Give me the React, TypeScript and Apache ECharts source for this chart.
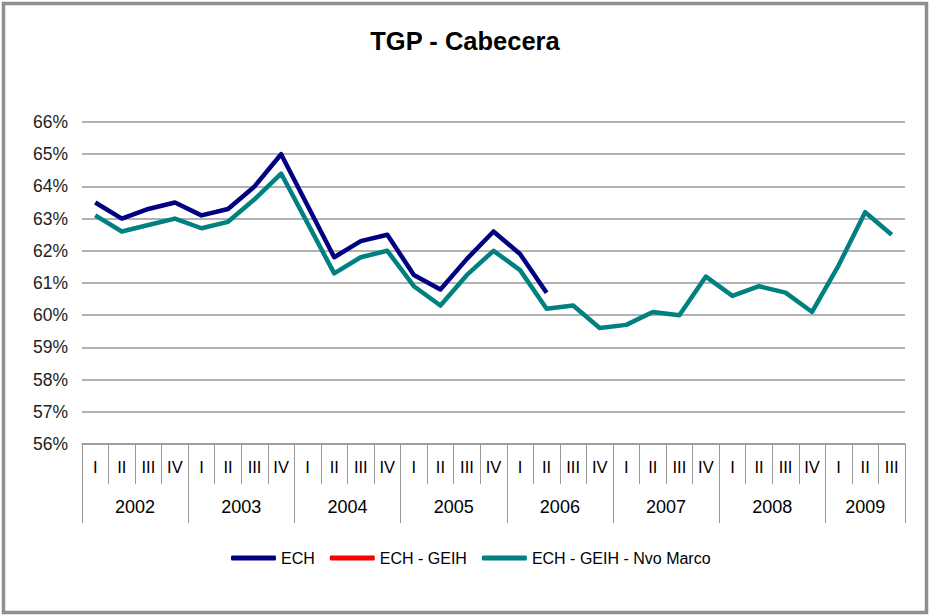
import React, { useEffect, useRef } from "react";
import * as echarts from "echarts";

const quarters = [
  "I", "II", "III", "IV", "I", "II", "III", "IV", "I", "II", "III", "IV",
  "I", "II", "III", "IV", "I", "II", "III", "IV", "I", "II", "III", "IV",
  "I", "II", "III", "IV", "I", "II", "III",
];
const years = ["2002", "2003", "2004", "2005", "2006", "2007", "2008", "2009"];
const yearQuarterCounts = [4, 4, 4, 4, 4, 4, 4, 3];

const ech = [
  63.5, 63.0, 63.3, 63.5, 63.1, 63.3, 64.0, 65.0, 63.4, 61.8, 62.3, 62.5,
  61.25, 60.8, 61.75, 62.6, 61.9, 60.7,
  null, null, null, null, null, null, null, null, null, null, null, null, null,
];
const echGeih: (number | null)[] = quarters.map(() => null);
const echGeihNvo = [
  63.1, 62.6, 62.8, 63.0, 62.7, 62.9, 63.6, 64.4, 62.85, 61.3, 61.8, 62.0,
  60.9, 60.3, 61.25, 62.0, 61.4, 60.2, 60.3, 59.6, 59.7, 60.1, 60.0, 61.2,
  60.6, 60.9, 60.7, 60.1, 61.55, 63.2, 62.5,
];

const FONT = "'Liberation Sans', Arial, sans-serif";

export default function App() {
  const ref = useRef<HTMLDivElement>(null);
  useEffect(() => {
    if (!ref.current) return;
    const chart = echarts.init(ref.current, null, { renderer: "svg" });

    const boundaries: number[] = [0];
    const centers: number[] = [];
    let acc = 0;
    yearQuarterCounts.forEach((n) => {
      centers.push(acc + n / 2);
      acc += n;
      boundaries.push(acc);
    });

    chart.setOption({
      animation: false,
      backgroundColor: "#ffffff",
      title: {
        text: "TGP - Cabecera",
        left: "center",
        top: 23,
        textStyle: { fontFamily: FONT, fontSize: 25.5, fontWeight: "bold", color: "#000" },
      },
      legend: {
        data: ["ECH", "ECH - GEIH", "ECH - GEIH - Nvo Marco"],
        left: 226,
        top: 545,
        icon: "roundRect",
        itemWidth: 45,
        itemHeight: 5,
        itemGap: 15,
        textStyle: { fontFamily: FONT, fontSize: 16, color: "#000" },
      },
      grid: { left: 82, right: 25, top: 122, bottom: 172 },
      xAxis: [
        {
          type: "category",
          data: quarters,
          boundaryGap: true,
          position: "bottom",
          axisLine: { show: true, lineStyle: { color: "#999", width: 1.5 } },
          axisTick: { show: true, interval: 0, length: 40, lineStyle: { color: "#999" } },
          axisLabel: { interval: 0, margin: 14, fontFamily: FONT, fontSize: 16.5, color: "#000" },
          splitLine: { show: false },
        },
        {
          type: "value",
          min: 0,
          max: quarters.length,
          position: "bottom",
          axisLine: { show: false },
          axisTick: {
            show: true,
            length: 79,
            customValues: boundaries,
            lineStyle: { color: "#999" },
          },
          axisLabel: {
            show: true,
            margin: 54,
            customValues: centers,
            formatter: (v: number) => {
              const idx = centers.findIndex((c) => Math.abs(c - v) < 1e-6);
              return idx >= 0 ? years[idx] : "";
            },
            fontFamily: FONT,
            fontSize: 18,
            color: "#000",
          },
          splitLine: { show: false },
        },
      ],
      yAxis: {
        type: "value",
        min: 56,
        max: 66,
        interval: 1,
        axisLine: { show: false },
        axisTick: { show: false },
        axisLabel: {
          margin: 14,
          formatter: (v: number) => v + "%",
          fontFamily: FONT,
          fontSize: 17.5,
          color: "#222",
        },
        splitLine: { show: true, lineStyle: { color: "#999", width: 1.5 } },
      },
      series: [
        {
          name: "ECH",
          type: "line",
          xAxisIndex: 0,
          data: ech,
          symbol: "none",
          lineStyle: { color: "#000080", width: 4.5, join: "round" },
          itemStyle: { color: "#000080" },
        },
        {
          name: "ECH - GEIH",
          type: "line",
          xAxisIndex: 0,
          data: echGeih,
          symbol: "none",
          lineStyle: { color: "#ff0000", width: 4.5 },
          itemStyle: { color: "#ff0000" },
        },
        {
          name: "ECH - GEIH - Nvo Marco",
          type: "line",
          xAxisIndex: 0,
          data: echGeihNvo,
          symbol: "none",
          lineStyle: { color: "#008080", width: 4.5, join: "round" },
          itemStyle: { color: "#008080" },
        },
      ],
      graphic: [
        {
          type: "rect",
          shape: { x: 3.5, y: 3.5, width: 923, height: 609 },
          style: { fill: "none", stroke: "#8f8f8f", lineWidth: 3.5 },
          silent: true,
        },
      ],
    });
    return () => chart.dispose();
  }, []);
  return (
    <div
      ref={ref}
      style={{ position: "fixed", left: 0, top: 0, width: 930, height: 616 }}
    />
  );
}
